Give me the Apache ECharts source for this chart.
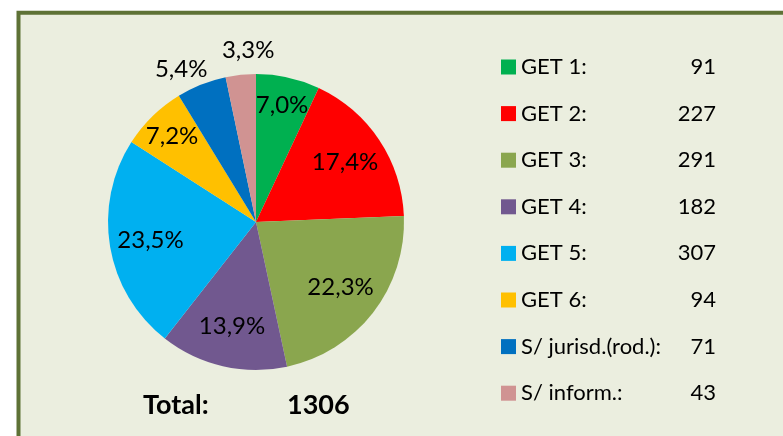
<!DOCTYPE html>
<html>
<head>
<meta charset="utf-8">
<script src="https://cdn.jsdelivr.net/npm/echarts@6/dist/echarts.min.js"></script>
<style>
  body { margin: 0; background: #fff; }
  #chart { width: 783px; height: 436px; }
</style>
</head>
<body>
<div id="chart"></div>
<script>
// categories and counts, clockwise from 12 o'clock
var categories = ['GET 1:', 'GET 2:', 'GET 3:', 'GET 4:', 'GET 5:', 'GET 6:', 'S/ jurisd.(rod.):', 'S/ inform.:']
var counts = [91, 227, 291, 182, 307, 94, 71, 43]
var colors = ['#00B050', '#FF0000', '#8AA64E', '#71588F', '#00B0F0', '#FFC000', '#0070C0', '#D09392']

var total = counts.reduce(function (a, b) { return a + b }, 0)
var fontFamily = 'Lato, "Open Sans", sans-serif'

var pieData = categories.map(function (name, i) {
  return { name: name, value: counts[i], itemStyle: { color: colors[i] } }
})

// label-only pie rings (transparent), so labels sit at different radii
function labelRing (id, radius, showIdx, nudge) {
  return {
    type: 'pie',
    id: id,
    center: [256, 222],
    radius: radius,
    silent: true,
    startAngle: 90,
    legendHoverLink: false,
    itemStyle: { color: 'transparent', borderWidth: 0 },
    emphasis: { disabled: true },
    labelLine: { show: false },
    labelLayout: function (p) {
      var n = (nudge && nudge[p.dataIndex]) || [0, 0]
      return { hideOverlap: false, dx: n[0], dy: n[1] }
    },
    data: categories.map(function (name, i) {
      return {
        name: name,
        value: counts[i],
        label: { show: showIdx.indexOf(i) >= 0 }
      }
    }),
    label: {
      position: 'inside',
      color: '#000',
      fontSize: 24,
      fontFamily: fontFamily,
      formatter: function (p) {
        return (p.value / total * 100).toFixed(1).replace('.', ',') + '%'
      }
    }
  }
}

var chart = echarts.init(document.getElementById('chart'))
chart.setOption({
  animation: false,
  backgroundColor: '#ffffff',
  graphic: [
    {
      type: 'rect',
      z: -10,
      shape: { x: 18.5, y: 12.7, width: 820, height: 460 },
      style: { fill: '#EBEEDF', stroke: '#5E7236', lineWidth: 4 }
    },
    {
      type: 'text',
      left: 143,
      top: 392,
      style: { text: 'Total:', font: 'bold 27px ' + fontFamily, fill: '#000' }
    },
    {
      type: 'text',
      left: 287,
      top: 392,
      style: { text: String(total), font: 'bold 27px ' + fontFamily, fill: '#000' }
    }
  ],
  legend: {
    orient: 'vertical',
    left: 501,
    top: 54,
    padding: 0,
    itemWidth: 15,
    itemHeight: 15,
    itemGap: 20.6,
    icon: 'rect',
    selectedMode: false,
    data: categories,
    formatter: function (name) {
      var i = categories.indexOf(name)
      return '{n|' + name + '}{v|' + counts[i] + '}'
    },
    textStyle: {
      fontFamily: fontFamily,
      color: '#000',
      fontSize: 22,
      lineHeight: 26,
      rich: {
        n: { width: 153, fontSize: 22, fontFamily: fontFamily, color: '#000' },
        v: { width: 42, align: 'right', fontSize: 22, fontFamily: fontFamily, color: '#000' }
      }
    }
  },
  series: [
    {
      type: 'pie',
      id: 'main',
      center: [256, 222],
      radius: [0, 148],
      startAngle: 90,
      itemStyle: { borderWidth: 0 },
      label: { show: false },
      labelLine: { show: false },
      emphasis: { disabled: true },
      data: pieData
    },
    labelRing('inner', [60, 148], [1, 2, 3, 4]),
    labelRing('mid', [86, 148], [0, 5]),
    labelRing('outer', [150, 190], [6, 7], { 6: [-11, 8], 7: [10, 0] })
  ]
})
</script>
</body>
</html>
